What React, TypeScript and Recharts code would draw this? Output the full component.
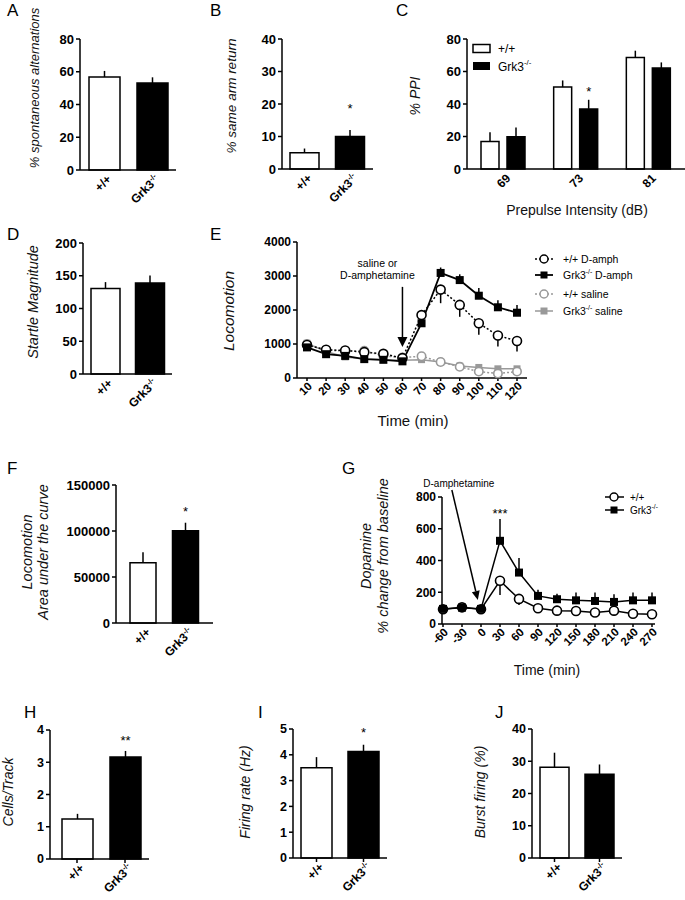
import React from 'react';
import {
  BarChart, Bar, LineChart, Line, XAxis, YAxis, ErrorBar, Cell, LabelList, ReferenceLine, ReferenceDot,
} from 'recharts';

const FONT = "'Liberation Sans', Arial, Helvetica, sans-serif";
const NARROW = "'Liberation Sans Narrow', 'Liberation Sans', Arial, sans-serif";

// ---------------- data ----------------
const genotypes = ['+/+', 'Grk3-/-'];

const altValues = [56.8, 53.1];
const altErrors = [3.7, 3.5];

const armValues = [5.0, 10.0];
const armErrors = [1.3, 2.0];
const armSig = ['', '*'];
const armSigY = [0, 19.4];

const ppiIntensities = ['69', '73', '81'];
const ppiWt = [16.9, 50.4, 68.6];
const ppiWtErr = [5.7, 4.1, 4.2];
const ppiKo = [19.9, 37.0, 62.1];
const ppiKoErr = [5.6, 5.6, 3.5];
const ppiKoSig = ['', '*', ''];
const ppiKoSigY = [0, 49.8, 0];

const startleValues = [130.6, 138.8];
const startleErrors = [9.7, 11.7];

const locoTimes = [10, 20, 30, 40, 50, 60, 70, 80, 90, 100, 110, 120];
const locoWtAmph = [970, 830, 810, 760, 710, 585, 1850, 2600, 2150, 1610, 1250, 1090];
const locoWtAmphErr = [0, 0, 0, 0, 0, 0, 0, 400, 350, 340, 320, 310];
const locoKoAmph = [900, 700, 650, 555, 535, 490, 1610, 3090, 2880, 2420, 2080, 1920];
const locoKoAmphErr = [0, 0, 0, 0, 0, 0, 60, 160, 170, 230, 210, 230];
const locoWtSal = [1000, 820, 790, 800, 650, 600, 640, 470, 330, 190, 130, 190];
const locoKoSal = [1020, 780, 620, 560, 540, 520, 540, 470, 350, 310, 270, 270];

const aucValues = [65500, 100300];
const aucErrors = [11300, 8700];
const aucSig = ['', '*'];
const aucSigY = [0, 125000];

const dopaTimes = [-60, -30, 0, 30, 60, 90, 120, 150, 180, 210, 240, 270];
const dopaWt = [93, 105, 93, 272, 158, 99, 84, 82, 72, 84, 65, 61];
const dopaWtErr = [0, 0, 0, 89, 38, 0, 0, 0, 0, 0, 0, 0];
const dopaKo = [95, 103, 95, 524, 324, 177, 156, 149, 145, 139, 149, 149];
const dopaKoErr = [0, 0, 0, 137, 91, 38, 34, 49, 53, 48, 49, 49];

const cellsValues = [1.24, 3.16];
const cellsErrors = [0.16, 0.19];
const cellsSig = ['', '**'];
const cellsSigY = [0, 3.78];

const firingValues = [3.5, 4.13];
const firingErrors = [0.41, 0.26];
const firingSig = ['', '*'];
const firingSigY = [0, 4.98];

const burstValues = [28.15, 26.0];
const burstErrors = [4.5, 3.0];

// ---------------- table builders ----------------
const genoRows = (vals: number[], errs: number[], sig?: string[], sigY?: number[]) =>
  genotypes.map((name, i) => ({
    name, value: vals[i], err: [0, errs[i]], sig: sig ? sig[i] : '', sigY: sigY ? sigY[i] : 0,
  }));

const altRows = genoRows(altValues, altErrors);
const armRows = genoRows(armValues, armErrors, armSig, armSigY);
const startleRows = genoRows(startleValues, startleErrors);
const aucRows = genoRows(aucValues, aucErrors, aucSig, aucSigY);
const cellsRows = genoRows(cellsValues, cellsErrors, cellsSig, cellsSigY);
const firingRows = genoRows(firingValues, firingErrors, firingSig, firingSigY);
const burstRows = genoRows(burstValues, burstErrors);

const ppiRows = ppiIntensities.map((name, i) => ({
  name, wt: ppiWt[i], wtErr: [0, ppiWtErr[i]], ko: ppiKo[i], koErr: [0, ppiKoErr[i]], sig: ppiKoSig[i], sigY: ppiKoSigY[i],
}));

const locoRows = locoTimes.map((time, i) => ({
  time,
  wtAmph: locoWtAmph[i], wtAmphErr: [locoWtAmphErr[i], 0],
  koAmph: locoKoAmph[i], koAmphErr: [0, locoKoAmphErr[i]],
  wtSal: locoWtSal[i], koSal: locoKoSal[i],
}));

const dopaRows = dopaTimes.map((time, i) => ({
  time, wt: dopaWt[i], wtErr: [dopaWtErr[i], 0], ko: dopaKo[i], koErr: [0, dopaKoErr[i]],
}));

// ---------------- helpers ----------------
const CatTick = (props: any) => {
  const { x, y, payload, fs = 12, family = FONT } = props;
  const v = String(payload.value);
  const isKo = v.startsWith('Grk3');
  return (
    <g transform={`translate(${x + 5},${y + 1})`}>
      <text transform="rotate(-45)" textAnchor="end" dy="0.35em" fontSize={fs} fontWeight="bold" fontFamily={family} fill="#000">
        {isKo ? (<>Grk3<tspan fontSize={fs * 0.62} dy={-fs * 0.38}>-/-</tspan></>) : v}
      </text>
    </g>
  );
};

const NumTick = (props: any) => {
  const { x, y, payload, fs = 11.5 } = props;
  return (
    <g transform={`translate(${x + 3},${y + 1})`}>
      <text transform="rotate(-45)" textAnchor="end" dy="0.35em" fontSize={fs} fontWeight="bold" fontFamily={FONT} fill="#000">
        {payload.value}
      </text>
    </g>
  );
};

const makeSig = (rows: any[], valueKey: string, fs: number) => (props: any) => {
  const vb = props.viewBox || {};
  const x = props.x ?? vb.x, y = props.y ?? vb.y, w = props.width ?? vb.width, h = props.height ?? vb.height;
  let row = typeof props.index === 'number' ? rows[props.index] : undefined;
  if (!row) row = rows.find((r) => r.sig && r.sig === props.value);
  if (!row || !row.sig || x == null || y == null) return null;
  const py = y + h - h * (row.sigY / row[valueKey]);
  return (
    <text x={x + w / 2} y={py + fs * 0.58} textAnchor="middle" fontSize={fs} fontFamily={FONT} fill="#000">{row.sig}</text>
  );
};

const AX = { stroke: '#000', strokeWidth: 1.5 };
const YW = 60;

function Frame(props: any) {
  const { axisX, gap, plotRight, topY, zeroY, max, ticks, rows, barSize, barGap = 4, padL = 0, padR = 0,
    tickFs = 13, family = FONT, xTickLines = false, catFs = 12, children } = props;
  const T = 10, R = 8, XH = 60;
  const width = YW + (plotRight - axisX) + R;
  const height = T + (zeroY - topY) + XH;
  return (
    <div style={{ position: 'absolute', left: axisX - YW, top: topY - T }}>
      <BarChart width={width} height={height} data={rows} margin={{ top: T, right: R, bottom: 0, left: 0 }}
        barSize={barSize} barGap={barGap}>
        {gap > 0 && (
          <YAxis yAxisId="sp" width={gap} tick={false} axisLine={false} tickLine={false} domain={[0, 1]} />
        )}
        <YAxis yAxisId="main" width={YW} domain={[0, max]} ticks={ticks} interval={0} tickSize={4} tickMargin={2}
          axisLine={AX} tickLine={AX}
          tick={{ fontSize: tickFs, fontWeight: 'bold', fill: '#000', fontFamily: family }} />
        <XAxis dataKey="name" height={XH} interval={0} tickSize={4} tickMargin={2} padding={{ left: padL, right: padR }}
          axisLine={AX} tickLine={xTickLines ? AX : false} tick={<CatTick fs={catFs} family={family} />} />
        {children}
      </BarChart>
    </div>
  );
}

const singleBar = (rows: any[], sigFs = 13) => (
  <Bar yAxisId="main" dataKey="value" stroke="#000" strokeWidth={1.5} isAnimationActive={false}>
    {rows.map((_r, i) => <Cell key={i} fill={i === 0 ? '#fff' : '#000'} />)}
    <ErrorBar dataKey="err" width={0} stroke="#000" strokeWidth={1.5} direction="y" />
    <LabelList dataKey="sig" content={makeSig(rows, 'value', sigFs)} />
  </Bar>
);

const openCircle = (color: string, r = 4.5) => (p: any) => (
  <circle key={`c${color}${p.index}`} cx={p.cx} cy={p.cy} r={r} fill="#fff" stroke={color} strokeWidth={1.6} />
);
const square = (color: string, s = 8) => (p: any) => (
  <rect key={`s${color}${p.index}`} x={p.cx - s / 2} y={p.cy - s / 2} width={s} height={s} fill={color} />
);

const makeArrow = (lines: string[], dx: number, dys: number[], fs: number, head: number, half: number) => (p: any) => {
  const { x1, y1, x2, y2 } = p;
  if ([x1, y1, x2, y2].some((v) => v == null || isNaN(v))) return null;
  const len = Math.hypot(x2 - x1, y2 - y1);
  const ux = (x2 - x1) / len, uy = (y2 - y1) / len;
  const bx = x2 - ux * head, by = y2 - uy * head;
  const px = -uy, py = ux;
  return (
    <g>
      <line x1={x1} y1={y1} x2={bx} y2={by} stroke="#000" strokeWidth={1.5} />
      <polygon points={`${x2},${y2} ${bx + px * half},${by + py * half} ${bx - px * half},${by - py * half}`} fill="#000" />
      {lines.map((t, i) => (
        <text key={i} x={x1 + dx} y={y1 + dys[i]} textAnchor="middle" dominantBaseline="central" fontSize={fs} fontFamily={FONT} fill="#000">{t}</text>
      ))}
    </g>
  );
};

function LocoPanel() {
  const axisX = 288, gap = 9, plotRight = 527, topY = 242, zeroY = 378;
  const T = 10, R = 8, XH = 50;
  const width = YW + (plotRight - axisX) + R;
  const height = T + (zeroY - topY) + XH;
  return (
    <div style={{ position: 'absolute', left: axisX - YW, top: topY - T }}>
      <LineChart width={width} height={height} data={locoRows} margin={{ top: T, right: R, bottom: 0, left: 0 }}>
        <YAxis yAxisId="sp" width={gap} tick={false} axisLine={false} tickLine={false} domain={[0, 1]} />
        <YAxis yAxisId="main" width={YW} domain={[0, 4000]} ticks={[0, 1000, 2000, 3000, 4000]} interval={0}
          tickSize={4} tickMargin={2} axisLine={AX} tickLine={AX}
          tick={{ fontSize: 12, fontWeight: 'bold', fill: '#000', fontFamily: FONT }} />
        <XAxis dataKey="time" type="number" domain={[10, 120]} ticks={locoTimes} interval={0} height={XH}
          padding={{ left: 10, right: 10 }} tickSize={3} tickMargin={2} axisLine={AX} tickLine={AX}
          tick={<NumTick fs={11.5} />} />
        <ReferenceLine yAxisId="main" segment={[{ x: 60, y: 2680 }, { x: 60, y: 910 }]} ifOverflow="visible"
          shape={makeArrow(['saline or', 'D-amphetamine'], -25, [-24, -12], 10.5, 10, 5)} />
        <Line yAxisId="main" dataKey="koSal" stroke="#999" strokeWidth={1.5} isAnimationActive={false}
          dot={square('#999', 7)} activeDot={false} />
        <Line yAxisId="main" dataKey="wtSal" stroke="#999" strokeWidth={1.5} strokeDasharray="2 2" isAnimationActive={false}
          dot={openCircle('#999', 4.2)} activeDot={false} />
        <Line yAxisId="main" dataKey="wtAmph" stroke="#000" strokeWidth={1.5} strokeDasharray="2 2" isAnimationActive={false}
          dot={openCircle('#000', 4.5)} activeDot={false}>
          <ErrorBar dataKey="wtAmphErr" width={0} stroke="#000" strokeWidth={1.5} direction="y" />
        </Line>
        <Line yAxisId="main" dataKey="koAmph" stroke="#000" strokeWidth={1.8} isAnimationActive={false}
          dot={square('#000', 8)} activeDot={false}>
          <ErrorBar dataKey="koAmphErr" width={0} stroke="#000" strokeWidth={1.5} direction="y" />
        </Line>
      </LineChart>
    </div>
  );
}

function DopaPanel() {
  const axisX = 428, gap = 14, plotRight = 655, topY = 497, zeroY = 624;
  const T = 30, R = 8, XH = 50;
  const width = YW + (plotRight - axisX) + R;
  const height = T + (zeroY - topY) + XH;
  return (
    <div style={{ position: 'absolute', left: axisX - YW, top: topY - T }}>
      <LineChart width={width} height={height} data={dopaRows} margin={{ top: T, right: R, bottom: 0, left: 0 }}>
        <YAxis yAxisId="sp" width={gap} tick={false} axisLine={false} tickLine={false} domain={[0, 1]} />
        <YAxis yAxisId="main" width={YW} domain={[0, 800]} ticks={[0, 200, 400, 600, 800]} interval={0}
          tickSize={4} tickMargin={2} axisLine={AX} tickLine={AX}
          tick={{ fontSize: 12, fontWeight: 'bold', fill: '#000', fontFamily: FONT }} />
        <XAxis dataKey="time" type="number" domain={[-60, 270]} ticks={dopaTimes} interval={0} height={XH}
          padding={{ left: 1, right: 3 }} tickSize={3} tickMargin={2} axisLine={AX} tickLine={AX}
          tick={<NumTick fs={11.5} />} />
        <ReferenceLine yAxisId="main" segment={[{ x: -46, y: 844 }, { x: -5, y: 151 }]} ifOverflow="visible"
          shape={makeArrow(['D-amphetamine'], 7, [-7], 10, 9, 4)} />
        <ReferenceDot yAxisId="main" x={30} y={718} r={0} ifOverflow="visible"
          shape={(p: any) => (
            <text x={p.cx} y={p.cy + 7.5} textAnchor="middle" fontSize={13} fontFamily={FONT} fill="#000">***</text>
          )} />
        <Line yAxisId="main" dataKey="wt" stroke="#000" strokeWidth={1.5} isAnimationActive={false}
          dot={openCircle('#000', 4.5)} activeDot={false}>
          <ErrorBar dataKey="wtErr" width={0} stroke="#000" strokeWidth={1.5} direction="y" />
        </Line>
        <Line yAxisId="main" dataKey="ko" stroke="#000" strokeWidth={1.5} isAnimationActive={false}
          dot={square('#000', 8)} activeDot={false}>
          <ErrorBar dataKey="koErr" width={0} stroke="#000" strokeWidth={1.5} direction="y" />
        </Line>
      </LineChart>
    </div>
  );
}

const Grk = ({ fs, rest = '' }: { fs: number; rest?: string }) => (
  <>
    Grk3<tspan fontSize={fs * 0.65} dy={-fs * 0.4}>-/-</tspan>
    {rest ? <tspan fontSize={fs} dy={fs * 0.4}>{rest}</tspan> : null}
  </>
);

const VText = ({ x, y, fs = 14, children }: any) => (
  <text transform={`translate(${x},${y}) rotate(-90)`} textAnchor="middle" dominantBaseline="central"
    fontSize={fs} fontStyle="italic" fontFamily={FONT} fill="#111">{children}</text>
);

const HText = ({ x, y, fs = 14, children }: any) => (
  <text x={x} y={y} textAnchor="middle" dominantBaseline="central" fontSize={fs} fontFamily={FONT} fill="#111">{children}</text>
);

const panelLetters: [string, number, number][] = [
  ['A', 7, 16], ['B', 210, 16], ['C', 396, 16], ['D', 7, 240], ['E', 210, 240],
  ['F', 7, 474], ['G', 342, 474], ['H', 24, 718], ['I', 258, 718], ['J', 495, 718],
];

function Overlay() {
  return (
    <svg width={685} height={900} style={{ position: 'absolute', left: 0, top: 0, pointerEvents: 'none' }}>
      {panelLetters.map(([t, x, y]) => (
        <text key={t} x={x} y={y} fontSize={17} fontFamily={FONT} fill="#000">{t}</text>
      ))}
      <VText x={34} y={88} fs={13}>% spontaneous alternations</VText>
      <VText x={231} y={96} fs={13.5}>% same arm return</VText>
      <VText x={415} y={96} fs={14}>% PPI</VText>
      <VText x={33} y={302} fs={14.5}>Startle Magnitude</VText>
      <VText x={228} y={311} fs={15.5}>Locomotion</VText>
      <VText x={27} y={552} fs={14.5}>Locomotion</VText>
      <VText x={43} y={552} fs={14.5}>Area under the curve</VText>
      <VText x={366} y={556} fs={14.5}>Dopamine</VText>
      <VText x={383} y={556} fs={14.5}>% change from baseline</VText>
      <VText x={8} y={792} fs={14}>Cells/Track</VText>
      <VText x={245} y={792} fs={14}>Firing rate (Hz)</VText>
      <VText x={480} y={792} fs={14}>Burst firing (%)</VText>

      <HText x={577} y={210} fs={14}>Prepulse Intensity (dB)</HText>
      <HText x={413} y={420} fs={15}>Time (min)</HText>
      <HText x={547} y={670} fs={14}>Time (min)</HText>

      {/* legend C */}
      <rect x={473} y={44.5} width={17} height={8} fill="#fff" stroke="#000" strokeWidth={1.5} />
      <rect x={473} y={62} width={17} height={8} fill="#000" />
      <text x={498} y={49} dominantBaseline="central" fontSize={12} fontFamily={FONT} fill="#000">+/+</text>
      <text x={498} y={67} dominantBaseline="central" fontSize={12} fontFamily={FONT} fill="#000"><Grk fs={12} /></text>

      {/* legend E */}
      <line x1={535} y1={259} x2={553} y2={259} stroke="#000" strokeWidth={1.5} strokeDasharray="2 2" />
      <circle cx={544} cy={259} r={4} fill="#fff" stroke="#000" strokeWidth={1.5} />
      <text x={563} y={259} dominantBaseline="central" fontSize={10.5} fontFamily={FONT} fill="#000">+/+ D-amph</text>
      <line x1={535} y1={275} x2={553} y2={275} stroke="#000" strokeWidth={1.8} />
      <rect x={540.5} y={271.5} width={7} height={7} fill="#000" />
      <text x={563} y={275} dominantBaseline="central" fontSize={10.5} fontFamily={FONT} fill="#000"><Grk fs={10.5} rest=" D-amph" /></text>
      <line x1={535} y1={294} x2={553} y2={294} stroke="#999" strokeWidth={1.5} strokeDasharray="2 2" />
      <circle cx={544} cy={294} r={4} fill="#fff" stroke="#999" strokeWidth={1.5} />
      <text x={563} y={294} dominantBaseline="central" fontSize={10.5} fontFamily={FONT} fill="#000">+/+ saline</text>
      <line x1={535} y1={311} x2={553} y2={311} stroke="#999" strokeWidth={1.5} />
      <rect x={540.5} y={307.5} width={7} height={7} fill="#999" />
      <text x={563} y={311} dominantBaseline="central" fontSize={10.5} fontFamily={FONT} fill="#000"><Grk fs={10.5} rest=" saline" /></text>

      {/* legend G */}
      <line x1={605} y1={497} x2={624} y2={497} stroke="#000" strokeWidth={1.5} />
      <circle cx={614} cy={497} r={4} fill="#fff" stroke="#000" strokeWidth={1.5} />
      <text x={630} y={497} dominantBaseline="central" fontSize={10} fontFamily={FONT} fill="#000">+/+</text>
      <line x1={605} y1={510} x2={624} y2={510} stroke="#000" strokeWidth={1.5} />
      <rect x={610.5} y={506.5} width={7} height={7} fill="#000" />
      <text x={630} y={510} dominantBaseline="central" fontSize={10} fontFamily={FONT} fill="#000"><Grk fs={10} /></text>
    </svg>
  );
}

export default function App() {
  return (
    <div style={{ position: 'absolute', left: 0, top: 0, width: 685, height: 900, background: '#fff', overflow: 'hidden' }}>
      {/* A */}
      <Frame axisX={76} gap={4} plotRight={176} topY={39} zeroY={170} max={80} ticks={[0, 20, 40, 60, 80]} rows={altRows} barSize={31}>
        {singleBar(altRows)}
      </Frame>
      {/* B */}
      <Frame axisX={279} gap={3} plotRight={373} topY={39} zeroY={169} max={40} ticks={[0, 10, 20, 30, 40]} rows={armRows} barSize={29}>
        {singleBar(armRows)}
      </Frame>
      {/* C */}
      <Frame axisX={457} gap={10} plotRight={685} topY={39} zeroY={169} max={80} ticks={[0, 20, 40, 60, 80]} rows={ppiRows}
        barSize={18} barGap={8}>
        <Bar yAxisId="main" dataKey="wt" fill="#fff" stroke="#000" strokeWidth={1.5} isAnimationActive={false}>
          <ErrorBar dataKey="wtErr" width={0} stroke="#000" strokeWidth={1.5} direction="y" />
        </Bar>
        <Bar yAxisId="main" dataKey="ko" fill="#000" stroke="#000" strokeWidth={1.5} isAnimationActive={false}>
          <ErrorBar dataKey="koErr" width={0} stroke="#000" strokeWidth={1.5} direction="y" />
          <LabelList dataKey="sig" content={makeSig(ppiRows, 'ko', 13)} />
        </Bar>
      </Frame>
      {/* D */}
      <Frame axisX={73} gap={10} plotRight={172} topY={243} zeroY={374} max={200} ticks={[0, 50, 100, 150, 200]} rows={startleRows} barSize={29}>
        {singleBar(startleRows)}
      </Frame>
      {/* E */}
      <LocoPanel />
      {/* F */}
      <Frame axisX={105} gap={11} plotRight={213} topY={485} zeroY={623} max={150000} ticks={[0, 50000, 100000, 150000]}
        rows={aucRows} barSize={26} padL={6} padR={6}>
        {singleBar(aucRows)}
      </Frame>
      {/* G */}
      <DopaPanel />
      {/* H */}
      <Frame axisX={49} gap={1} plotRight={149} topY={730} zeroY={859} max={4} ticks={[0, 1, 2, 3, 4]} rows={cellsRows}
        barSize={31} padL={3} tickFs={12.5} family={NARROW} xTickLines catFs={12}>
        {singleBar(cellsRows)}
      </Frame>
      {/* I */}
      <Frame axisX={287} gap={6} plotRight={387} topY={729} zeroY={858} max={5} ticks={[0, 1, 2, 3, 4, 5]} rows={firingRows}
        barSize={31} tickFs={12.5} family={NARROW} xTickLines catFs={12}>
        {singleBar(firingRows)}
      </Frame>
      {/* J */}
      <Frame axisX={523} gap={9} plotRight={622} topY={729} zeroY={858} max={40} ticks={[0, 10, 20, 30, 40]} rows={burstRows}
        barSize={29} tickFs={12.5} family={NARROW} xTickLines catFs={12}>
        {singleBar(burstRows)}
      </Frame>
      <Overlay />
    </div>
  );
}
